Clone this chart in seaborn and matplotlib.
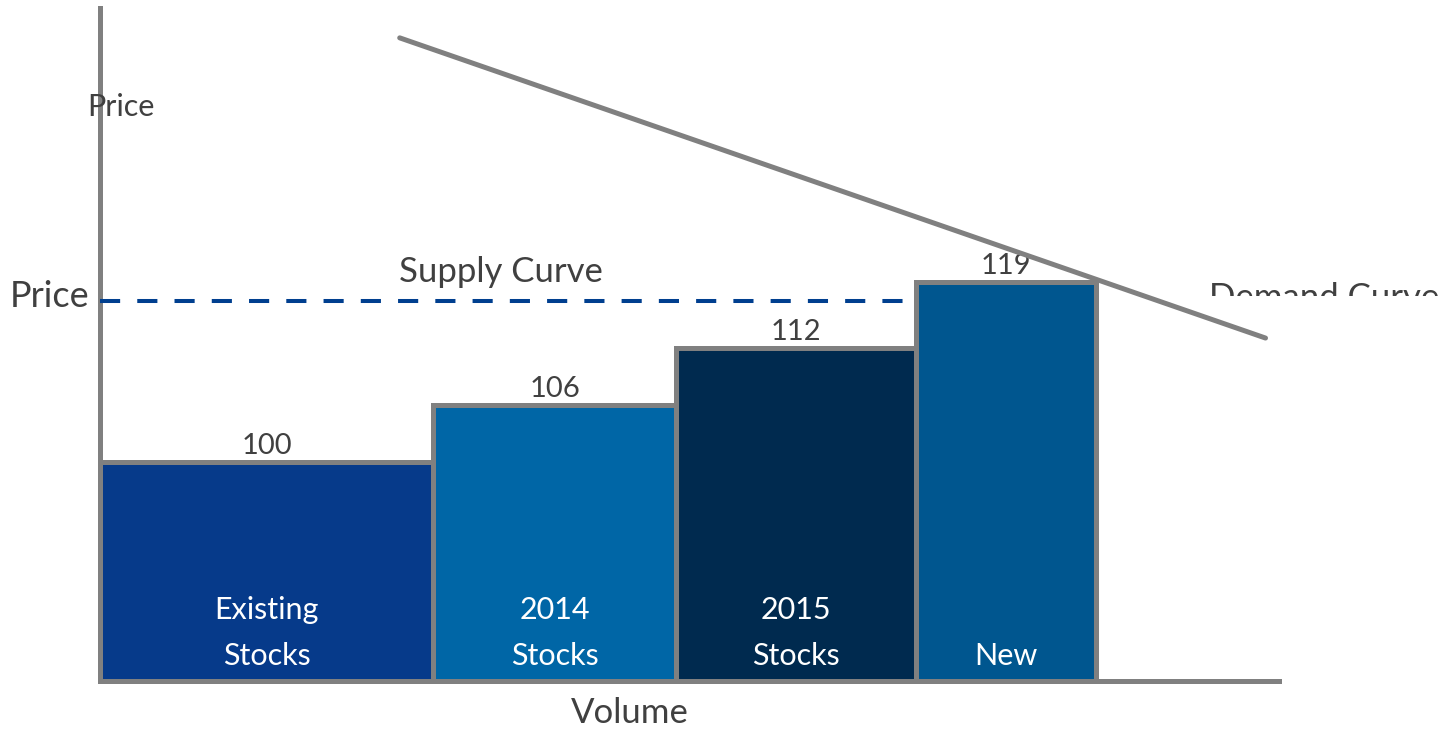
import matplotlib
matplotlib.use("Agg")
import matplotlib.pyplot as plt
import seaborn as sns
from matplotlib.transforms import Bbox, TransformedBbox

# data
segments = ["Existing\nStocks", "2014\nStocks", "2015\nStocks", "New"]
volumes = [100, 73, 72, 54]
prices = [100, 106, 112, 119]
bar_colors = ["#063a8a", "#0066a6", "#002a4f", "#00568f"]
supply_price = 117
demand_x = [90, 350]
demand_y = [144.7, 113.1]

base = 77
grey = "#808080"
txt = "#404040"

sns.set_theme(style="white")
plt.rcParams["font.family"] = ["Lato", "DejaVu Sans"]

fig = plt.figure(figsize=(14.41, 7.31), dpi=100)
ax = fig.add_axes([100 / 1441, 50 / 731, 1341 / 1441, 673 / 731])
ax.set_xlim(0, 402.7)
ax.set_ylim(base, base + 673 / 9.5)

lefts = [sum(volumes[:i]) for i in range(len(volumes))]
heights = [p - base for p in prices]
ax.bar(lefts, heights, width=volumes, align="edge", bottom=base,
       color=bar_colors, edgecolor=grey, linewidth=3.6, clip_on=False, zorder=2)

# supply price level (dashed) and demand curve
ax.hlines(supply_price, 0, lefts[-1], colors="#003f8f", linewidth=2.9,
          linestyles=(0, (5, 4.25)), zorder=3)
sns.lineplot(x=demand_x, y=demand_y, ax=ax, color=grey, linewidth=3.6, zorder=4)

# value labels and segment names
for l, v, p, name in zip(lefts, volumes, prices, segments):
    ax.text(l + v / 2, p + 1.7, str(p), ha="center", va="center",
            fontsize=21, color=txt)
    ax.text(l + v / 2, base + 1.2, name, ha="center", va="bottom",
            fontsize=22, color="white", linespacing=1.75, zorder=5)

ax.text(6.3, 137.4, "Price", ha="center", va="center", fontsize=22, color=txt)
ax.text(-15, 117.5, "Price", ha="center", va="center", fontsize=26,
        color=txt, clip_on=False)
ax.text(120.4, 120.1, "Supply Curve", ha="center", va="center",
        fontsize=25, color=txt)
ax.text(159, 73.6, "Volume", ha="center", va="center", fontsize=25,
        color=txt, clip_on=False)

demand_lbl = ax.text(333, 117.3, "Demand Curve", ha="left", va="center",
                     fontsize=25, color=txt)
demand_lbl.set_clip_box(TransformedBbox(Bbox([[300, 117.5], [420, 125]]),
                                        ax.transData))
demand_lbl.set_clip_on(True)

for s in ["top", "right"]:
    ax.spines[s].set_visible(False)
ax.spines["left"].set_color(grey)
ax.spines["left"].set_linewidth(3.6)
ax.spines["bottom"].set_color(grey)
ax.spines["bottom"].set_linewidth(3.6)
ax.spines["bottom"].set_bounds(0, 354)
ax.set_xticks([])
ax.set_yticks([])
ax.set_xlabel("")
ax.set_ylabel("")

fig.savefig("out.png", dpi=100)
